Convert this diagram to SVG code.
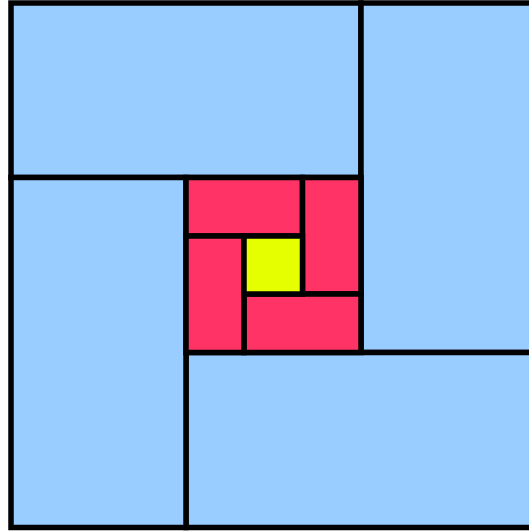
<svg xmlns="http://www.w3.org/2000/svg" width="529" height="531" viewBox="0 0 529 531">
<style>
rect{stroke:#000;stroke-width:5.5;stroke-linejoin:miter}
.b{fill:#99ccff}
.p{fill:#ff3366}
.y{fill:#e5ff00}
</style>
<rect x="0" y="0" width="529" height="531" fill="#ffffff" style="stroke:none"/>
<g id="outer-top"><rect class="b" x="11" y="3" width="350" height="174.5"/></g>
<g id="outer-right"><rect class="b" x="361" y="3" width="175" height="349.5"/></g>
<g id="outer-bottom"><rect class="b" x="186" y="352.5" width="350" height="175"/></g>
<g id="outer-left"><rect class="b" x="11" y="177.5" width="175" height="350"/></g>
<g id="inner-top"><rect class="p" x="186" y="177.5" width="116.5" height="58.5"/></g>
<g id="inner-right"><rect class="p" x="302.5" y="177.5" width="58.5" height="116.5"/></g>
<g id="inner-bottom"><rect class="p" x="244" y="294" width="117" height="58.5"/></g>
<g id="inner-left"><rect class="p" x="186" y="236" width="58" height="116.5"/></g>
<g id="center"><rect class="y" x="244" y="236" width="58.5" height="58"/></g>
</svg>
